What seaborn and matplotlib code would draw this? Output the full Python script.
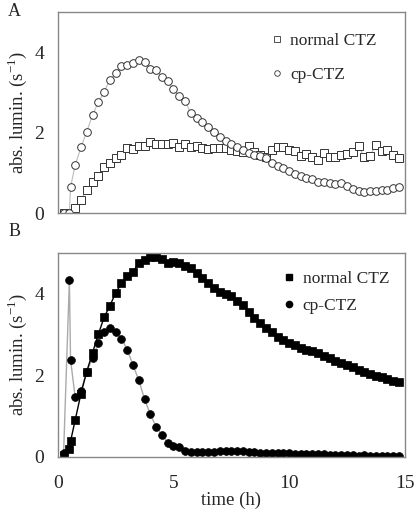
import matplotlib
matplotlib.use('Agg')
import matplotlib.pyplot as plt
from matplotlib.lines import Line2D
import seaborn as sns

# sample times (h)
time_h = [0.25, 0.5, 0.55, 0.75, 1.0, 1.25, 1.5, 1.75, 2.0, 2.25, 2.5, 2.75,
          3.0, 3.25, 3.5, 3.75, 4.0, 4.25, 4.5, 4.75, 5.0, 5.25, 5.5, 5.75,
          6.0, 6.25, 6.5, 6.75, 7.0, 7.25, 7.5, 7.75, 8.0, 8.25, 8.5, 8.75,
          9.0, 9.25, 9.5, 9.75, 10.0, 10.25, 10.5, 10.75, 11.0, 11.25, 11.5, 11.75,
          12.0, 12.25, 12.5, 12.75, 13.0, 13.25, 13.5, 13.75, 14.0, 14.25, 14.5, 14.75]

# panel A
a_normal = [0, 0, 0, 0.14, 0.33, 0.58, 0.77, 0.93, 1.16, 1.26, 1.38, 1.45,
            1.62, 1.59, 1.68, 1.68, 1.78, 1.73, 1.73, 1.73, 1.76, 1.66, 1.73, 1.66,
            1.68, 1.62, 1.59, 1.62, 1.63, 1.63, 1.58, 1.54, 1.53, 1.68, 1.52, 1.45,
            1.41, 1.58, 1.64, 1.64, 1.58, 1.55, 1.43, 1.47, 1.39, 1.33, 1.51, 1.41,
            1.41, 1.45, 1.48, 1.52, 1.68, 1.39, 1.43, 1.70, 1.55, 1.58, 1.45, 1.37]
a_cp = [0, 0, 0.65, 1.2, 1.64, 2.03, 2.44, 2.76, 3.02, 3.32, 3.48, 3.66,
        3.70, 3.74, 3.81, 3.76, 3.60, 3.57, 3.39, 3.28, 3.09, 2.91, 2.80, 2.49,
        2.37, 2.26, 2.15, 2.03, 1.90, 1.81, 1.72, 1.66, 1.58, 1.50, 1.45, 1.43,
        1.37, 1.26, 1.18, 1.12, 1.06, 0.98, 0.93, 0.87, 0.84, 0.78, 0.77, 0.74,
        0.72, 0.74, 0.68, 0.61, 0.56, 0.53, 0.56, 0.56, 0.58, 0.59, 0.62, 0.66]

# panel B
b_normal = [0.04, 0.18, 0.38, 0.9, 1.55, 2.09, 2.55, 3.0, 3.42, 3.7, 4.02, 4.25,
            4.44, 4.53, 4.75, 4.82, 4.89, 4.9, 4.85, 4.76, 4.78, 4.76, 4.68, 4.62,
            4.5, 4.39, 4.27, 4.13, 4.05, 4.0, 3.94, 3.82, 3.71, 3.55, 3.41, 3.27,
            3.16, 3.06, 2.94, 2.87, 2.79, 2.73, 2.67, 2.63, 2.59, 2.55, 2.48, 2.42,
            2.36, 2.3, 2.25, 2.2, 2.14, 2.09, 2.04, 1.99, 1.95, 1.9, 1.86, 1.83]
b_cp = [0.1, 4.33, 2.38, 1.46, 1.62, 2.08, 2.43, 2.79, 3.05, 3.16, 3.07, 2.9,
        2.63, 2.25, 1.88, 1.41, 1.04, 0.74, 0.54, 0.35, 0.27, 0.23, 0.15, 0.11,
        0.13, 0.13, 0.12, 0.12, 0.14, 0.15, 0.14, 0.14, 0.15, 0.11, 0.11, 0.1,
        0.1, 0.1, 0.09, 0.09, 0.09, 0.08, 0.07, 0.07, 0.06, 0.06, 0.06, 0.05,
        0.05, 0.04, 0.05, 0.04, 0.03, 0.04, 0.03, 0.02, 0.02, 0.02, 0.02, 0.02]

labels = ['normal CTZ', 'cp-CTZ']

sns.set_style("white")
plt.rcParams['font.family'] = ['Liberation Serif', 'DejaVu Serif']
plt.rcParams['mathtext.fontset'] = 'custom'
plt.rcParams['mathtext.rm'] = 'Liberation Serif'

fig = plt.figure(figsize=(4.16, 5.15), dpi=100)
ax_a = fig.add_axes([0.139, 0.586, 0.834, 0.390])
ax_b = fig.add_axes([0.139, 0.113, 0.834, 0.396])

# A: open markers, light gray connecting lines
sns.lineplot(x=time_h, y=a_normal, ax=ax_a, color='#bbbbbb', lw=0.8,
             marker='s', markersize=5.3, markerfacecolor='white',
             markeredgecolor='#333333', markeredgewidth=0.7)
sns.lineplot(x=time_h, y=a_cp, ax=ax_a, color='#bbbbbb', lw=0.8,
             marker='o', markersize=5.5, markerfacecolor='white',
             markeredgecolor='#333333', markeredgewidth=0.7)

# B: filled markers
sns.lineplot(x=time_h, y=b_cp, ax=ax_b, color='#aaaaaa', lw=1.0,
             marker='o', markersize=5.6, markerfacecolor='black',
             markeredgecolor='black', markeredgewidth=0.5)
sns.lineplot(x=time_h, y=b_normal, ax=ax_b, color='black', lw=1.0,
             marker='s', markersize=5.3, markerfacecolor='black',
             markeredgecolor='black', markeredgewidth=0.5)

for ax in (ax_a, ax_b):
    ax.set_xlim(0, 15)
    ax.set_ylim(0, 5)
    ax.set_xticks([0, 5, 10, 15])
    ax.set_yticks([0, 2, 4])
    for s in ax.spines.values():
        s.set_color('#888888')
        s.set_linewidth(1.0)
    ax.tick_params(axis='both', direction='out', length=3, width=0.8,
                   color='#aaaaaa', labelsize=14, pad=7)
    ax.tick_params(axis='x', pad=10)
    ax.set_ylabel('abs. lumin. (s$^{\\mathrm{-1}}$)', fontsize=13.5, labelpad=4)

ax_a.set_xticklabels([])
ax_b.set_xlabel('time (h)', fontsize=13.5, labelpad=0)

h_a = [Line2D([], [], ls='none', marker='s', ms=4, mfc='white', mec='#333333', mew=0.6),
       Line2D([], [], ls='none', marker='o', ms=4, mfc='white', mec='#333333', mew=0.6)]
ax_a.legend(h_a, labels, loc='upper right', frameon=False, fontsize=12.5,
            handlelength=0.6, handletextpad=0.5, labelspacing=1.0,
            bbox_to_anchor=(0.965, 0.975))
h_b = [Line2D([], [], ls='none', marker='s', ms=4.5, mfc='black', mec='black'),
       Line2D([], [], ls='none', marker='o', ms=4.5, mfc='black', mec='black')]
ax_b.legend(h_b, labels, loc='upper right', frameon=False, fontsize=12.5,
            handlelength=0.6, handletextpad=0.5, labelspacing=0.65,
            bbox_to_anchor=(1.0, 0.99))

fig.text(0.02, 1 - 12 / 515, 'A', fontsize=13, va='center')
fig.text(0.02, 1 - 232 / 515, 'B', fontsize=13, va='center')

fig.savefig('out.png', dpi=100)
